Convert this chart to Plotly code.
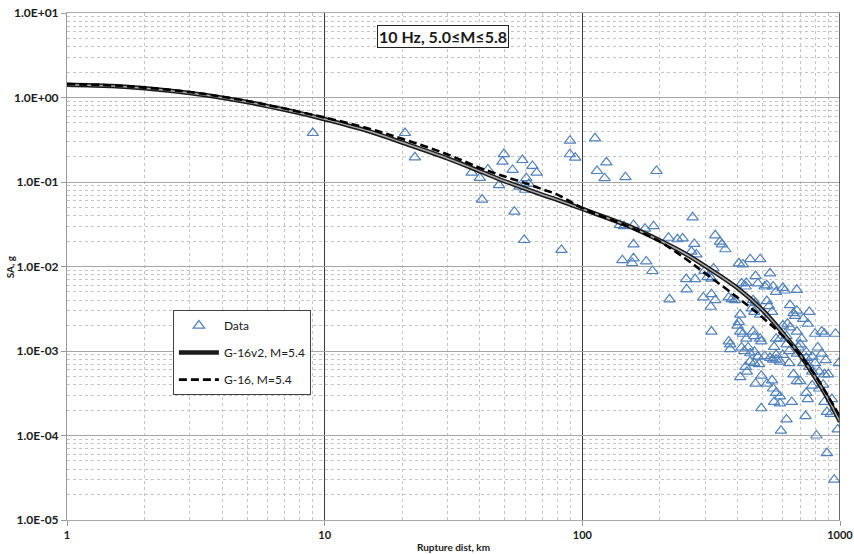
import plotly.graph_objects as go

# Observed spectral accelerations (10 Hz, 5.0<=M<=5.8)
data_dist_km = [
    9.0, 20.5, 22.4, 37.2, 40, 43, 40.8, 47.5,
    49.6, 49, 58.5, 53.6, 64, 66.5, 60.6, 60, 62, 57,
    54.5, 59.5, 83, 89.5, 89.5, 93.8, 112, 124, 114, 122, 147, 194,
    140, 145, 158, 175, 189, 216, 158, 143, 158, 156, 177, 187, 234,
    268, 245, 272, 265, 277, 328, 342, 348, 359, 253, 274, 254, 218,
    295, 317, 315, 328, 298, 306, 317, 323, 380, 391, 370, 405, 420,
    448, 490, 415, 430, 433, 470, 535, 480, 510, 520, 550, 565, 600,
    610, 680, 460, 470, 520, 530, 545, 455, 465, 490, 410, 405, 400,
    660, 670, 680, 760, 600, 625, 640, 317, 410, 420, 433, 460, 465,
    490, 495, 370, 375, 565, 585, 620, 680, 710, 800, 850, 870, 960,
    375, 415, 425, 440, 448, 465, 480, 465, 485, 448, 430, 435, 410,
    470, 495, 520, 545, 510, 535, 550, 565, 585, 550, 565, 585, 555,
    585, 495, 620, 590, 650, 635, 660, 680, 700, 720, 740, 760, 780,
    800, 830, 870, 900, 740, 750, 735, 780, 830, 860, 870, 890, 920,
    810, 890, 950, 980, 990, 930, 620, 635, 680, 700, 740, 780, 850,
    880, 555, 565, 640, 720, 750, 820, 690, 600,
]
data_sa_g = [
    0.38, 0.38, 0.196, 0.129, 0.112, 0.141, 0.062, 0.092,
    0.214, 0.174, 0.182, 0.139, 0.155, 0.129, 0.111, 0.081, 0.095, 0.088,
    0.0445, 0.0206, 0.0157, 0.308, 0.213, 0.194, 0.329, 0.171, 0.135, 0.111, 0.114, 0.135,
    0.031, 0.030, 0.031, 0.028, 0.030, 0.0219, 0.0183, 0.0119, 0.0125, 0.011, 0.0115, 0.00885, 0.021,
    0.0382, 0.0215, 0.0185, 0.015, 0.0139, 0.0234, 0.0197, 0.0183, 0.016, 0.0071, 0.0071, 0.00537, 0.00409,
    0.0043, 0.0047, 0.00334, 0.0040, 0.0089, 0.0075, 0.0072, 0.0095, 0.0041, 0.0040, 0.0043, 0.0109, 0.0106,
    0.0122, 0.0122, 0.0063, 0.0058, 0.0064, 0.0077, 0.0083, 0.0063, 0.0058, 0.0060, 0.0058, 0.0050, 0.0056,
    0.0052, 0.0053, 0.0040, 0.0037, 0.0039, 0.0034, 0.0029, 0.0032, 0.0029, 0.0027, 0.0027, 0.0022, 0.0020,
    0.0028, 0.0026, 0.0030, 0.0029, 0.0020, 0.0021, 0.0019, 0.0017, 0.0017, 0.0016, 0.0014, 0.0017, 0.0015,
    0.0014, 0.0013, 0.0013, 0.0012, 0.0014, 0.0014, 0.0015, 0.0017, 0.0014, 0.0016, 0.0017, 0.0016, 0.0016,
    0.00105, 0.0011, 0.0010, 0.0011, 0.00094, 0.00098, 0.00086, 0.00072, 0.00070, 0.00075, 0.00065, 0.00057, 0.00049,
    0.00041, 0.00051, 0.00041, 0.00045, 0.00087, 0.00083, 0.00079, 0.00079, 0.00075, 0.00036, 0.00032, 0.00029, 0.00025,
    0.00024, 0.00021, 0.000155, 0.000114, 0.00025, 0.00072, 0.00053, 0.00044, 0.00044, 0.00072, 0.00083, 0.00065, 0.00057,
    0.00072, 0.00057, 0.00053, 0.00053, 0.00032, 0.00027, 0.00017, 0.00039, 0.00036, 0.00040, 0.00025, 0.00019, 0.00018,
    0.00010, 0.000062, 0.000030, 0.000118, 0.00072, 0.00027, 0.0012, 0.0010, 0.00093, 0.0012, 0.00097, 0.00086, 0.00093,
    0.00078, 0.00112, 0.0009, 0.0035, 0.0024, 0.0021, 0.0011, 0.0011, 0.0009,
]

# Model predictions for M=5.4
model_dist_km = [1, 1.5, 2, 3, 4, 5, 6, 7, 8, 10, 15, 20, 30, 40, 50, 60, 70, 80,
                 100, 150, 200, 250, 300, 400, 500, 600, 700, 800, 900, 1000]
g16v2_sa_g = [1.42, 1.37, 1.29, 1.13, 0.995, 0.885, 0.79, 0.716, 0.654, 0.553, 0.395,
              0.293, 0.19, 0.134, 0.102, 0.0835, 0.0706, 0.0614, 0.048, 0.0304, 0.0203,
              0.01425, 0.0101, 0.00557, 0.00306, 0.00163, 0.0009, 0.00049, 0.00027, 0.000145]
g16_sa_g = [1.44, 1.39, 1.31, 1.16, 1.02, 0.91, 0.815, 0.74, 0.675, 0.58, 0.425,
            0.325, 0.212, 0.147, 0.116, 0.097, 0.082, 0.071, 0.049, 0.030, 0.0197,
            0.0125, 0.0083, 0.0043, 0.0025, 0.00151, 0.0009, 0.00052, 0.00029, 0.000167]

x_ticks = [1, 10, 100, 1000]
x_tick_text = ["1", "10", "100", "1000"]
y_ticks = [1e-5, 1e-4, 1e-3, 1e-2, 1e-1, 1, 10]
y_tick_text = ["1.0E-05", "1.0E-04", "1.0E-03", "1.0E-02", "1.0E-01", "1.0E+00", "1.0E+01"]

FONT = "Lato, 'Noto Sans', sans-serif"

x_minor = [m * 10 ** k for k in range(0, 3) for m in range(2, 10)]
y_minor = [m * 10.0 ** k for k in range(-5, 1) for m in range(2, 10)]

fig = go.Figure()

fig.add_trace(go.Scatter(
    x=data_dist_km, y=data_sa_g, mode="markers", name="Data",
    legendgroup="a",
    marker=dict(symbol="triangle-up-open", size=10, color="#4f81bd",
                line=dict(width=1.2, color="#4f81bd")),
))
fig.add_trace(go.Scatter(
    x=model_dist_km, y=g16v2_sa_g, mode="lines", name="G-16v2, M=5.4",
    legendgroup="b",
    line=dict(color="#1a1a1a", width=4.5, shape="spline"),
))
fig.add_trace(go.Scatter(
    x=model_dist_km, y=g16v2_sa_g, mode="lines", showlegend=False,
    legendgroup="b", hoverinfo="skip",
    line=dict(color="#a8a8a8", width=1.5, shape="spline"),
))
fig.add_trace(go.Scatter(
    x=model_dist_km, y=g16_sa_g, mode="lines", name="G-16, M=5.4",
    legendgroup="c",
    line=dict(color="#000000", width=2.6, dash="8px,4px", shape="spline"),
))

fig.update_xaxes(
    type="log", range=[0, 3], automargin=False,
    tickmode="array", tickvals=x_ticks, ticktext=x_tick_text,
    tickfont=dict(family=FONT, size=11, color="#1a1a1a", weight="bold"),
    showgrid=True, gridcolor="#3a3a3a", gridwidth=1,
    ticks="outside", ticklen=5, tickcolor="#999999",
    showline=True, mirror=True, linecolor="#aaaaaa", linewidth=1,
    zeroline=False,
    minor=dict(tickmode="array", tickvals=x_minor, showgrid=True,
               gridcolor="#c4c4c4", griddash="dot", gridwidth=1, ticks=""),
)
fig.update_yaxes(
    type="log", range=[-5, 1], automargin=False,
    tickmode="array", tickvals=y_ticks, ticktext=y_tick_text,
    tickfont=dict(family=FONT, size=12, color="#1a1a1a", weight="bold"),
    showgrid=True, gridcolor="#a6a6a6", gridwidth=1,
    ticks="outside", ticklen=5, tickcolor="#999999",
    showline=True, linecolor="#999999", linewidth=1,
    zeroline=False,
    minor=dict(tickmode="array", tickvals=y_minor, showgrid=True,
               gridcolor="#c4c4c4", griddash="dot", gridwidth=1, ticks=""),
)

# dark frame line on the right-hand edge (x = 1000 km)
fig.add_shape(type="line", xref="x", yref="paper", x0=1000, x1=1000, y0=0, y1=1,
              line=dict(color="#3a3a3a", width=1.5), layer="above")

fig.update_layout(
    width=854, height=554,
    margin=dict(l=67, r=14, t=13, b=34),
    paper_bgcolor="white", plot_bgcolor="white",
    font=dict(family=FONT, color="#1a1a1a"),
    showlegend=True,
    legend=dict(
        x=0.137, y=0.414, xanchor="left", yanchor="top",
        bordercolor="#404040", borderwidth=1, bgcolor="white",
        font=dict(family=FONT, size=12, color="#1a1a1a"),
        tracegroupgap=8, traceorder="grouped", itemwidth=40,
    ),
    annotations=[
        dict(text="<b>10 Hz, 5.0≤M≤5.8</b>", xref="paper", yref="paper",
             x=0.486, y=0.953, xanchor="center", yanchor="middle", showarrow=False,
             font=dict(family=FONT, size=16, color="#1a1a1a"),
             bordercolor="#222222", borderwidth=1, borderpad=1, bgcolor="white"),
        dict(text="<b>SA, g</b>", xref="paper", yref="paper",
             x=-0.074, y=0.5, xanchor="center", yanchor="middle",
             textangle=-90, showarrow=False,
             font=dict(family=FONT, size=10, color="#1a1a1a")),
        dict(text="<b>Rupture dist, km</b>", xref="paper", yref="paper",
             x=0.5, y=-0.053, yanchor="middle", showarrow=False,
             font=dict(family=FONT, size=10, color="#1a1a1a")),
    ],
)

fig.write_html("out.html")
